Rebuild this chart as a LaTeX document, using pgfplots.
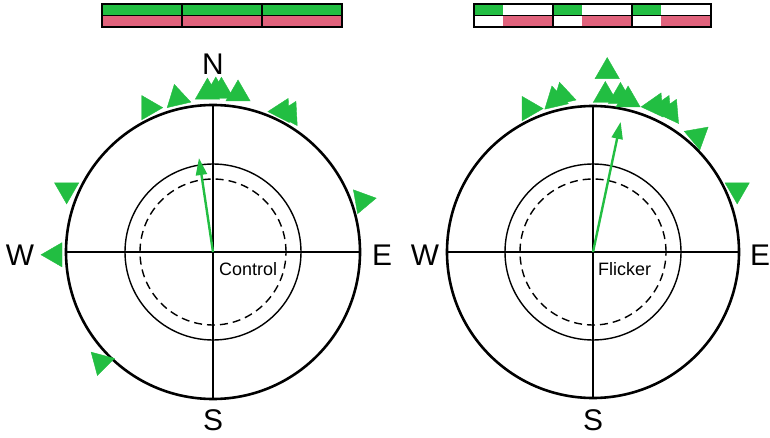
\documentclass[border=0pt]{standalone}
\usepackage{pgfplots}
\pgfplotsset{compat=1.18}
\usepackage{pgfplotstable}
\usepackage{fontspec}
\setmainfont{Liberation Sans}
\usetikzlibrary{arrows.meta}
\definecolor{tgreen}{RGB}{34,190,66}
\definecolor{tpink}{RGB}{224,98,124}

% bearing (deg clockwise from N), distance from centre, mark rotation
\pgfplotstableread{
b r rot
336 158 -90
347 158 13
-2 160 0
1 161 0
3 161 0
9 160 0
26 157 -27
29 158 -27
293 159 180
269 158 90
71 158 160
225.5 157 -75
}\ctrl
\pgfplotstableread{
b r rot
336 157 -90
346 157 13
349 159 13
4.5 181 0
4.5 157 0
10 158 0
13 156 0
23 159 -25
26 160 -25
29 160 -25
42 156 190
66.7 157 180
}\flick
% mean vectors: bearing, length
\pgfplotstableread{
b r
0 0
351.5 95
}\ctrlmean
\pgfplotstableread{
b r
0 0
12 133
}\flickmean

\begin{document}
\begin{tikzpicture}
\begin{axis}[hide axis, scale only axis, width=770bp, height=437bp,
  xmin=0, xmax=770, ymin=0, ymax=437, clip=false]
\path (axis cs:0,0) rectangle (axis cs:770,437);

% ---- stimulus bars ----
\fill[tgreen] (axis cs:102,421.5) rectangle (axis cs:342,433);
\fill[tpink] (axis cs:102,410) rectangle (axis cs:342,421.5);
\draw[line width=1.3bp] (axis cs:102,410) rectangle (axis cs:342,433);
\draw[line width=1.1bp] (axis cs:102,421.5) -- (axis cs:342,421.5);
\draw[line width=1.1bp] (axis cs:182,410) -- (axis cs:182,433);
\draw[line width=1.1bp] (axis cs:262,410) -- (axis cs:262,433);

\fill[tgreen] (axis cs:474,421.5) rectangle (axis cs:502.5,433);
\fill[tpink] (axis cs:502.5,410) rectangle (axis cs:553,421.5);
\fill[tgreen] (axis cs:553,421.5) rectangle (axis cs:581.5,433);
\fill[tpink] (axis cs:581.5,410) rectangle (axis cs:632,421.5);
\fill[tgreen] (axis cs:632,421.5) rectangle (axis cs:660.5,433);
\fill[tpink] (axis cs:660.5,410) rectangle (axis cs:711,421.5);
\draw[line width=1.1bp] (axis cs:553,410) -- (axis cs:553,433);
\draw[line width=1.1bp] (axis cs:632,410) -- (axis cs:632,433);
\draw[line width=1.3bp] (axis cs:474,410) rectangle (axis cs:711,433);
\draw[line width=1.1bp] (axis cs:474,421.5) -- (axis cs:711,421.5);

% ---- circles ----
\draw[line width=2.6bp] (axis cs:213,185) circle[radius=147];
\draw[line width=1.4bp] (axis cs:213,185) circle[radius=88];
\draw[line width=1.4bp, dash pattern=on 8bp off 5bp] (axis cs:213,185) circle[radius=73];
\draw[line width=1.2bp] (axis cs:66,185) -- (axis cs:360,185);
\draw[line width=1.2bp] (axis cs:213,38) -- (axis cs:213,332);

\draw[line width=2.6bp] (axis cs:593,185) circle[radius=146];
\draw[line width=1.4bp] (axis cs:593,185) circle[radius=88];
\draw[line width=1.4bp, dash pattern=on 8bp off 5bp] (axis cs:593,185) circle[radius=73];
\draw[line width=1.2bp] (axis cs:447,185) -- (axis cs:739,185);
\draw[line width=1.2bp] (axis cs:593,39) -- (axis cs:593,331);

% ---- labels ----
\node[inner sep=0pt, font=\fontsize{30}{30}\selectfont] at (axis cs:213,373) {N};
\node[inner sep=0pt, font=\fontsize{30}{30}\selectfont] at (axis cs:20,182) {W};
\node[inner sep=0pt, font=\fontsize{30}{30}\selectfont] at (axis cs:382,182) {E};
\node[inner sep=0pt, font=\fontsize{30}{30}\selectfont] at (axis cs:213,17) {S};
\node[inner sep=0pt, font=\fontsize{30}{30}\selectfont] at (axis cs:425,182) {W};
\node[inner sep=0pt, font=\fontsize{30}{30}\selectfont] at (axis cs:760,182) {E};
\node[inner sep=0pt, font=\fontsize{30}{30}\selectfont] at (axis cs:593,17) {S};
\node[inner sep=0pt, anchor=west, font=\fontsize{18}{18}\selectfont] at (axis cs:219,168) {Control};
\node[inner sep=0pt, anchor=west, font=\fontsize{18}{18}\selectfont] at (axis cs:598,168) {Flicker};

% ---- individual headings ----
\addplot[scatter, only marks, mark=triangle*, mark size=14bp,
  scatter/use mapped color={draw=tgreen,fill=tgreen},
  visualization depends on={\thisrow{rot}\as\rot},
  scatter/@pre marker code/.append style={/tikz/rotate=\rot}]
  table[x expr={213+\thisrow{r}*sin(\thisrow{b})}, y expr={185+\thisrow{r}*cos(\thisrow{b})}] {\ctrl};
\addplot[scatter, only marks, mark=triangle*, mark size=14bp,
  scatter/use mapped color={draw=tgreen,fill=tgreen},
  visualization depends on={\thisrow{rot}\as\rot},
  scatter/@pre marker code/.append style={/tikz/rotate=\rot}]
  table[x expr={593+\thisrow{r}*sin(\thisrow{b})}, y expr={185+\thisrow{r}*cos(\thisrow{b})}] {\flick};

% ---- mean vectors ----
\addplot[tgreen, line width=2.4bp, -{Triangle[width=11bp,length=17bp]}, mark=none]
  table[x expr={213+\thisrow{r}*sin(\thisrow{b})}, y expr={185+\thisrow{r}*cos(\thisrow{b})}] {\ctrlmean};
\addplot[tgreen, line width=2.4bp, -{Triangle[width=11bp,length=17bp]}, mark=none]
  table[x expr={593+\thisrow{r}*sin(\thisrow{b})}, y expr={185+\thisrow{r}*cos(\thisrow{b})}] {\flickmean};
\end{axis}
\end{tikzpicture}
\end{document}
